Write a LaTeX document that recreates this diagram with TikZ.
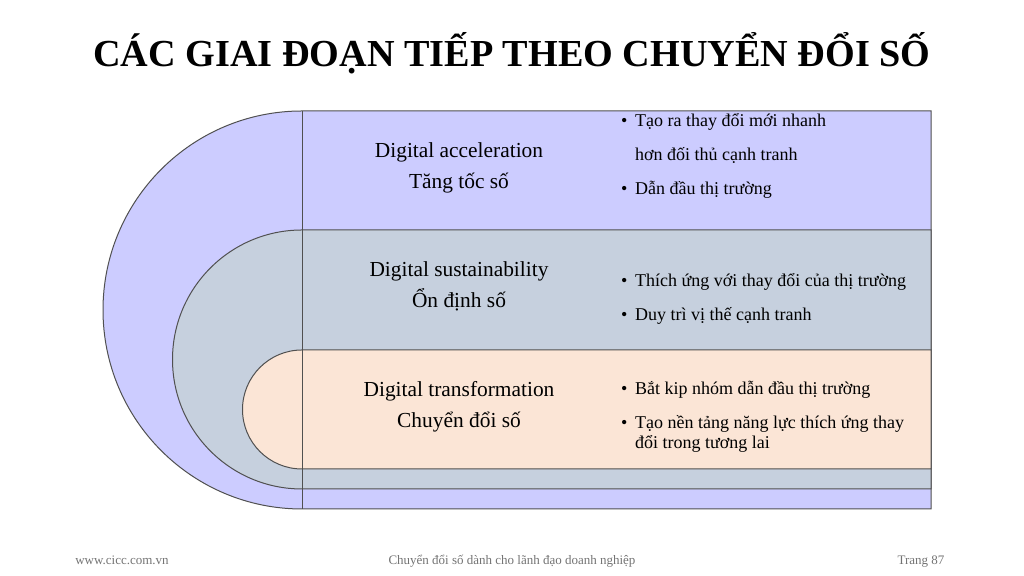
\documentclass[tikz,border=0pt]{standalone}
\usepackage{fontspec}
\setmainfont{Liberation Serif}
\definecolor{accelfill}{RGB}{204,204,255}
\definecolor{sustfill}{RGB}{198,208,222}
\definecolor{transfill}{RGB}{251,229,214}
\definecolor{edgegray}{RGB}{80,80,80}
\begin{document}
\begin{tikzpicture}[x=0.5pt, y=0.5pt,
    stage/.style={draw=edgegray, line width=0.5pt},
    phase/.style={anchor=base, font=\fontsize{10.7}{13}\selectfont},
    item/.style={anchor=base west, font=\fontsize{9}{11}\selectfont},
    dot/.style={anchor=base west, font=\fontsize{9}{11}\selectfont},
    foot/.style={anchor=base, font=\fontsize{6.5}{8}\selectfont, text=black!55}]
                    \useasboundingbox (0,0) rectangle (1024,576);

                    % Title
                    \node[anchor=base, font=\fontsize{19.1}{22}\selectfont\bfseries] (title) at (512,509) {CÁC GIAI ĐOẠN TIẾP THEO CHUYỂN ĐỔI SỐ};

                    % Draw the three nested stages
                    \filldraw[stage, fill=accelfill] (931,465) -- (302,465) arc (90:270:199) -- (931,67) -- cycle;
                    \filldraw[stage, fill=sustfill] (931,346) -- (302,346) arc (90:270:129.5) -- (931,87) -- cycle;
                    \filldraw[stage, fill=transfill] (931,226) -- (302,226) arc (90:270:59.5) -- (931,107) -- cycle;
                    \draw[stage] (302,465) -- (302,67);

                    % Stage names
                    \node[phase] (acc1) at (459,418) {Digital acceleration};
                    \node[phase] (acc2) at (459,387) {Tăng tốc số};
                    \node[phase] (sus1) at (459,299) {Digital sustainability};
                    \node[phase] (sus2) at (459,268) {Ổn định số};
                    \node[phase] (tra1) at (459,179) {Digital transformation};
                    \node[phase] (tra2) at (459,148) {Chuyển đổi số};

                    % Bullets for acceleration
                    \node[dot] (d1) at (614,449) {\textbullet};
                    \node[item] (i1) at (628,449) {Tạo ra thay đổi mới nhanh};
                    \node[item] (i2) at (628,415) {hơn đối thủ cạnh tranh};
                    \node[dot] (d2) at (614,381) {\textbullet};
                    \node[item] (i3) at (628,381) {Dẫn đầu thị trường};

                    % Bullets for sustainability
                    \node[dot] (d3) at (614,289) {\textbullet};
                    \node[item] (i4) at (628,289) {Thích ứng với thay đổi của thị trường};
                    \node[dot] (d4) at (614,255) {\textbullet};
                    \node[item] (i5) at (628,255) {Duy trì vị thế cạnh tranh};

                    % Bullets for transformation
                    \node[dot] (d5) at (614,181) {\textbullet};
                    \node[item] (i6) at (628,181) {Bắt kip nhóm dẫn đầu thị trường};
                    \node[dot] (d6) at (614,147) {\textbullet};
                    \node[item] (i7) at (628,147) {Tạo nền tảng năng lực thích ứng thay};
                    \node[item] (i8) at (628,127) {đổi trong tương lai};

                    % Footer
                    \node[foot] (site) at (122,11) {www.cicc.com.vn};
                    \node[foot] (book) at (512,11) {Chuyển đổi số dành cho lãnh đạo doanh nghiệp};
                    \node[foot] (page) at (921,11) {Trang 87};

\end{tikzpicture}
\end{document}
